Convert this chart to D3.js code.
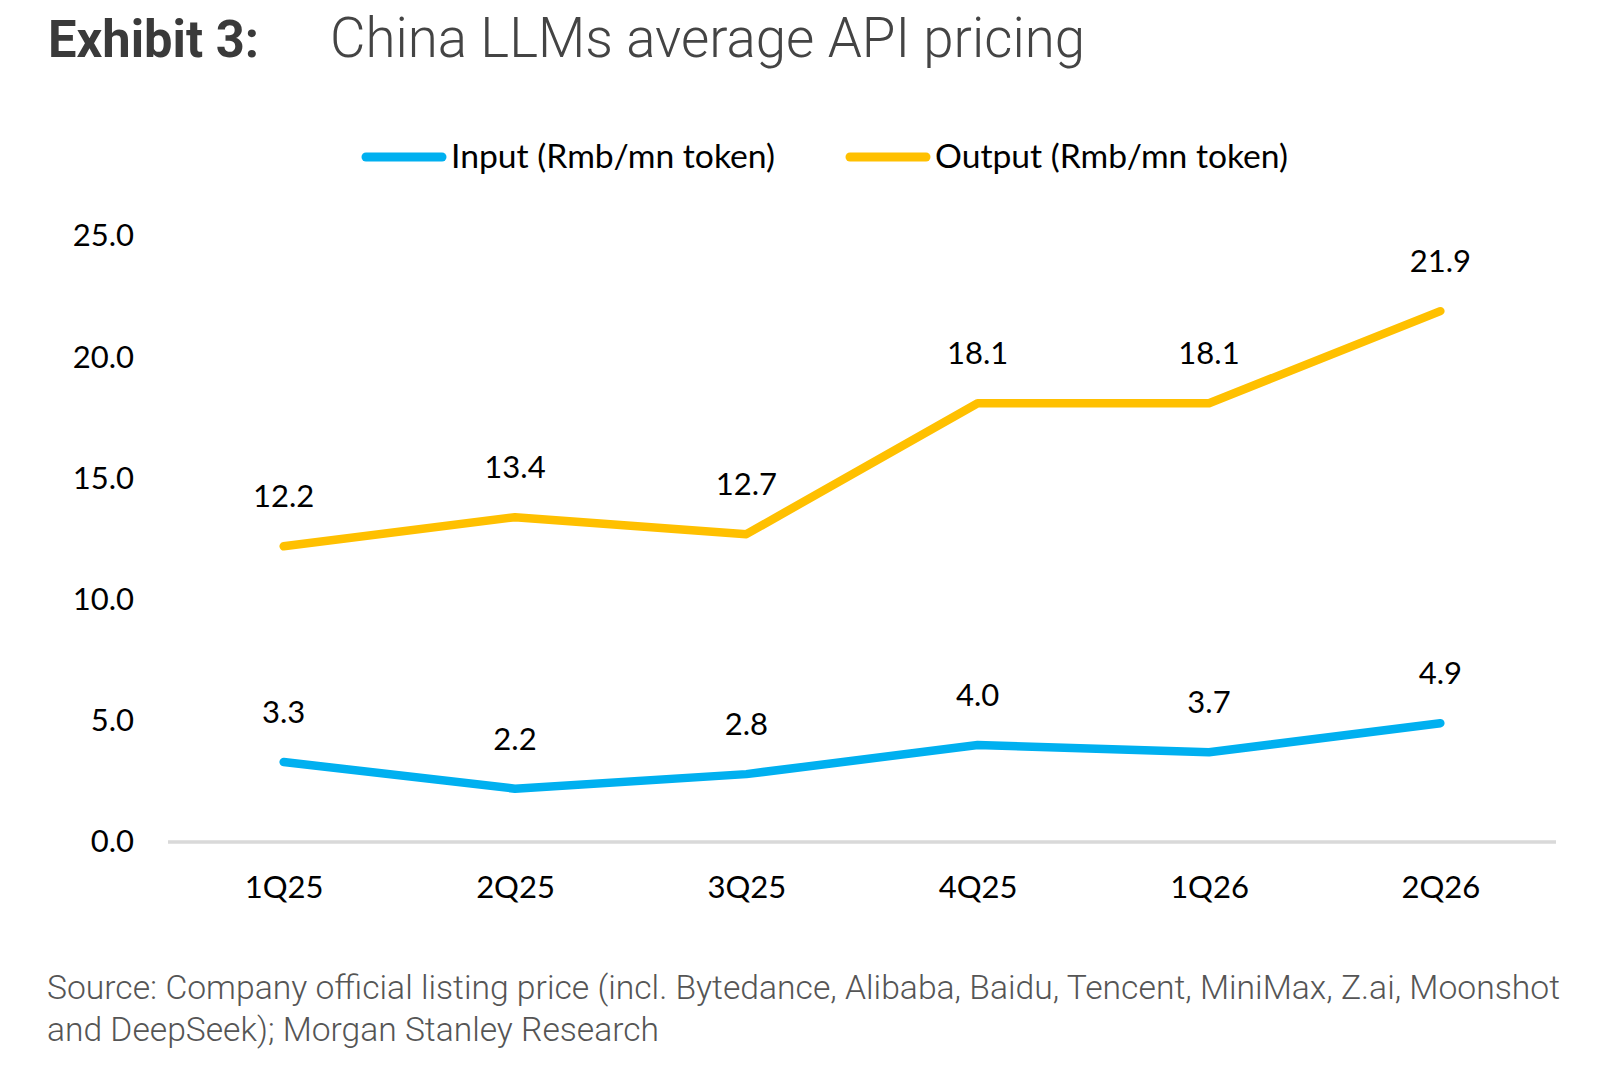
<!DOCTYPE html>
<html>
<head>
<meta charset="utf-8">
<script src="https://cdn.jsdelivr.net/npm/d3@7"></script>
<style>
  body { margin: 0; background: #fff; }
  svg { display: block; }
</style>
</head>
<body>
<div id="chart"></div>
<script>
const quarters = ["1Q25", "2Q25", "3Q25", "4Q25", "1Q26", "2Q26"];
const inputPrice = [3.3, 2.2, 2.8, 4.0, 3.7, 4.9];
const outputPrice = [12.2, 13.4, 12.7, 18.1, 18.1, 21.9];
const yTicks = [0, 5, 10, 15, 20, 25];
const seriesNames = ["Input (Rmb/mn token)", "Output (Rmb/mn token)"];
const seriesColors = ["#00b0f0", "#ffc000"];

const W = 1599, H = 1082;
const plot = { left: 168, right: 1556, top: 236, bottom: 842 };

const svg = d3.select("#chart")
    .append("svg")
    .attr("width", W)
    .attr("height", H);

// title
svg.append("text")
    .attr("x", 48).attr("y", 57)
    .attr("textLength", 211).attr("lengthAdjust", "spacingAndGlyphs")
    .style("font-family", "Roboto")
    .style("font-weight", "bold")
    .style("font-size", "52px")
    .style("fill", "#3a3a3a")
    .text("Exhibit 3:");

svg.append("text")
    .attr("x", 330).attr("y", 57)
    .attr("textLength", 755).attr("lengthAdjust", "spacingAndGlyphs")
    .style("font-family", "Roboto")
    .style("font-weight", 300)
    .style("font-size", "56px")
    .style("fill", "#444")
    .text("China LLMs average API pricing");

const x = d3.scalePoint()
    .domain(quarters)
    .range([plot.left, plot.right])
    .padding(0.5);

const y = d3.scaleLinear()
    .domain([0, 25])
    .range([plot.bottom, plot.top]);

// y axis labels, no line
const yAxis = svg.append("g")
    .attr("transform", `translate(${plot.left}, 0)`)
    .call(d3.axisLeft(y).tickValues(yTicks).tickSize(0).tickPadding(34).tickFormat(d3.format(".1f")));
yAxis.select(".domain").remove();

// x axis baseline + labels
const xAxis = svg.append("g")
    .attr("transform", `translate(0, ${y(0)})`)
    .call(d3.axisBottom(x).tickSize(0).tickPadding(34));
xAxis.select(".domain")
    .attr("stroke", "#d9d9d9")
    .attr("stroke-width", 3.5)
    .attr("d", `M${plot.left},0H${plot.right}`);

svg.selectAll(".tick text")
    .style("font-family", "Lato")
    .style("font-size", "31px")
    .style("fill", "#000");

const line = d3.line()
    .x((d, i) => x(quarters[i]))
    .y(d => y(d));

[inputPrice, outputPrice].forEach((vals, k) => {
    svg.append("path")
        .datum(vals)
        .attr("fill", "none")
        .attr("stroke", seriesColors[k])
        .attr("stroke-width", 8.5)
        .attr("stroke-linecap", "round")
        .attr("stroke-linejoin", "round")
        .attr("d", line);

    svg.selectAll(".lbl" + k)
        .data(vals)
        .enter().append("text")
        .attr("x", (d, i) => x(quarters[i]))
        .attr("y", d => y(d) - 39)
        .attr("text-anchor", "middle")
        .style("font-family", "Lato")
        .style("font-size", "31px")
        .style("fill", "#000")
        .text(d => d.toFixed(1));
});

// legend
const legendX = [362, 846];
const legendTextLen = [324, 353];
seriesNames.forEach((name, k) => {
    const g = svg.append("g").attr("transform", `translate(${legendX[k]}, 157)`);
    g.append("line")
        .attr("x1", 4).attr("x2", 80)
        .attr("stroke", seriesColors[k])
        .attr("stroke-width", 9)
        .attr("stroke-linecap", "round");
    g.append("text")
        .attr("x", 89).attr("y", 11)
        .attr("textLength", legendTextLen[k]).attr("lengthAdjust", "spacingAndGlyphs")
        .style("font-family", "Lato")
        .style("font-size", "32px")
        .style("fill", "#000")
        .text(name);
});

// source note
const source = [
    "Source: Company official listing price (incl. Bytedance, Alibaba, Baidu, Tencent, MiniMax, Z.ai, Moonshot",
    "and DeepSeek); Morgan Stanley Research"
];
const sourceLen = [1513, 612];
source.forEach((s, i) => {
    svg.append("text")
        .attr("x", 47).attr("y", 999 + i * 42)
        .attr("textLength", sourceLen[i]).attr("lengthAdjust", "spacingAndGlyphs")
        .style("font-family", "Roboto")
        .style("font-weight", 300)
        .style("font-size", "34px")
        .style("fill", "#555")
        .text(s);
});
</script>
</body>
</html>
